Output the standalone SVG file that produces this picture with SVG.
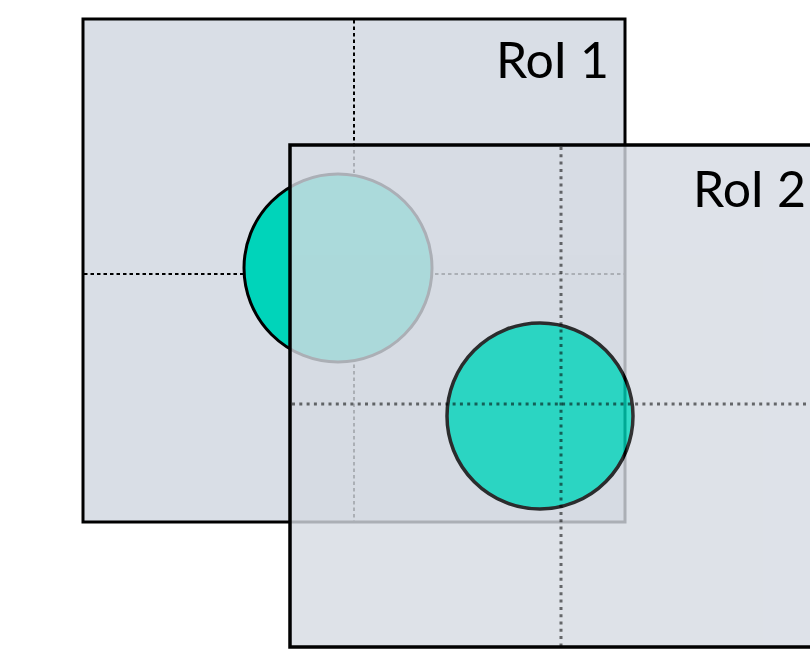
<svg xmlns="http://www.w3.org/2000/svg" width="810" height="649" viewBox="0 0 810 649">
  <style>
    .roi1 { fill: #d9dee6; stroke: #000; stroke-width: 3; }
    .blob1 { fill: #00d4ba; stroke: #000; stroke-width: 3; }
    .blob2 { fill: #00d4ba; stroke: #000; stroke-width: 3.5; }
    .axis1 { stroke: #000; stroke-width: 2; stroke-dasharray: 3.5 3; fill: none; }
    .axis2 { stroke: #000; stroke-opacity: 0.55; stroke-width: 3; stroke-dasharray: 3 4.3; fill: none; }
    .label { font-family: "Lato", "Open Sans", "Liberation Sans", sans-serif; font-size: 50px; fill: #000; }
  </style>
  <rect width="810" height="649" fill="#ffffff"/>

  <!-- first region of interest -->
  <g id="roi1">
    <rect class="roi1" x="83" y="19" width="542" height="503"/>
    <line class="axis1" x1="354" y1="20" x2="354" y2="521"/>
    <line class="axis1" x1="84" y1="274" x2="624" y2="274"/>
    <circle class="blob1" cx="338" cy="268" r="94"/>
    <text class="label" x="609" y="78" text-anchor="end">RoI 1</text>
  </g>

  <!-- second region of interest, drawn translucent over the first -->
  <g id="roi2">
    <g opacity="0.8">
      <rect x="290" y="145" width="560" height="502" fill="#d6dbe3"/>
      <circle class="blob2" cx="540" cy="416" r="93"/>
    </g>
    <line class="axis2" x1="561" y1="147" x2="561" y2="646"/>
    <line class="axis2" x1="292" y1="404" x2="810" y2="404"/>
    <rect x="290" y="145" width="560" height="502" fill="none" stroke="#000" stroke-width="3.5"/>
    <text class="label" x="693" y="207">RoI 2</text>
  </g>
</svg>
